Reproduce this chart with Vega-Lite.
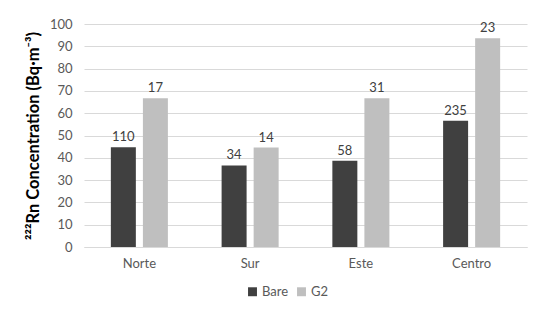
{
  "$schema": "https://vega.github.io/schema/vega-lite/v6.json",
  "width": 443,
  "height": 223,
  "autosize": "none",
  "padding": {"left": 84, "top": 24, "right": 23, "bottom": 73},
  "background": "white",
  "config": {
    "font": "Lato",
    "view": {"stroke": null},
    "axis": {"labelColor": "#595959", "labelFontSize": 13, "titleColor": "#000000", "ticks": false}
  },
  "data": {
    "values": [
      {"zone": "Norte", "series": "Bare", "value": 44.7, "n": "110"},
      {"zone": "Norte", "series": "G2", "value": 66.7, "n": "17"},
      {"zone": "Sur", "series": "Bare", "value": 36.6, "n": "34"},
      {"zone": "Sur", "series": "G2", "value": 44.6, "n": "14"},
      {"zone": "Este", "series": "Bare", "value": 38.7, "n": "58"},
      {"zone": "Este", "series": "G2", "value": 66.7, "n": "31"},
      {"zone": "Centro", "series": "Bare", "value": 56.6, "n": "235"},
      {"zone": "Centro", "series": "G2", "value": 93.6, "n": "23"}
    ]
  },
  "encoding": {
    "x": {
      "field": "zone", "type": "nominal", "sort": ["Norte", "Sur", "Este", "Centro"],
      "scale": {"paddingInner": 0.485, "paddingOuter": 0.2425},
      "axis": {"title": null, "labelAngle": 0, "labelPadding": 10, "domainColor": "#d9d9d9", "grid": false}
    },
    "xOffset": {"field": "series", "type": "nominal", "scale": {"paddingInner": 0.22, "paddingOuter": 0}},
    "y": {
      "field": "value", "type": "quantitative",
      "scale": {"domain": [0, 100]},
      "axis": {
        "title": "²²²Rn Concentration (Bq·m⁻³)", "titleFontSize": 16.5, "titleFontWeight": "bold", "titlePadding": 8,
        "values": [0, 10, 20, 30, 40, 50, 60, 70, 80, 90, 100],
        "domain": false, "gridColor": "#d9d9d9", "labelPadding": 12
      }
    }
  },
  "layer": [
    {
      "mark": {"type": "bar"},
      "encoding": {
        "color": {
          "field": "series", "type": "nominal",
          "scale": {"domain": ["Bare", "G2"], "range": ["#404040", "#bfbfbf"]},
          "legend": {
            "title": null, "orient": "none", "direction": "horizontal", "legendX": 162, "legendY": 261,
            "symbolType": "square", "symbolSize": 80, "symbolStrokeWidth": 0, "labelFontSize": 13,
            "labelColor": "#595959", "columnPadding": 6, "labelOffset": 3
          }
        }
      }
    },
    {
      "mark": {"type": "text", "dy": -10, "fontSize": 13, "color": "#404040"},
      "encoding": {"text": {"field": "n", "type": "nominal"}}
    }
  ]
}
